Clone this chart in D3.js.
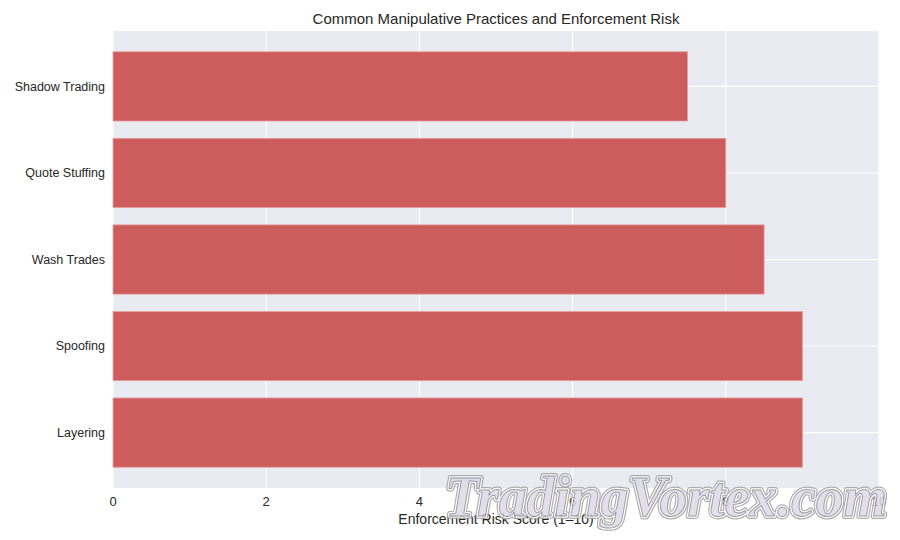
<!DOCTYPE html>
<html><head><meta charset="utf-8">
<script src="https://cdn.jsdelivr.net/npm/d3@7"></script>
<style>body{margin:0;background:#fff}svg{display:block}text{font-family:"Liberation Sans",Arial,sans-serif}text.wm{font-family:"Liberation Serif","DejaVu Serif",serif;font-style:italic;font-weight:bold}</style>
</head><body><svg id="c" width="900" height="540"></svg>
<script>
const categories = ["Layering","Spoofing","Wash Trades","Quote Stuffing","Shadow Trading"];
const scores = [9, 9, 8.5, 8, 7.5];
const xTicks = [0,2,4,6,8,10];
const title = "Common Manipulative Practices and Enforcement Risk";
const xLabel = "Enforcement Risk Score (1–10)";

const svg = d3.select("#c");
const L=113, R=879, T=31, B=488;
const x = d3.scaleLinear().domain([0,10]).range([L,R]);
const y = d3.scaleLinear().domain([-0.64, 4.64]).range([B,T]);

svg.append("rect").attr("x",L).attr("y",T).attr("width",R-L).attr("height",B-T).attr("fill","#EAEAF2");

const g = svg.append("g");
g.selectAll(".vg").data(xTicks).join("line")
  .attr("x1",d=>x(d)).attr("x2",d=>x(d)).attr("y1",T).attr("y2",B)
  .attr("stroke","#fff").attr("stroke-width",1.1);
g.selectAll(".hg").data(categories).join("line")
  .attr("x1",L).attr("x2",R).attr("y1",(d,i)=>y(i)).attr("y2",(d,i)=>y(i))
  .attr("stroke","#fff").attr("stroke-width",1.1);

g.selectAll(".bar").data(scores).join("rect")
  .attr("x",x(0)).attr("y",(d,i)=>y(i+0.4))
  .attr("width",d=>x(d)-x(0)).attr("height",(d,i)=>y(i-0.4)-y(i+0.4))
  .attr("fill","#CD5C5C").attr("stroke","#e8a0a0").attr("stroke-width",0.8);

svg.selectAll(".yl").data(categories).join("text")
  .attr("x",L-8).attr("y",(d,i)=>y(i)).attr("dy","0.35em")
  .attr("text-anchor","end").attr("font-size",12.5).attr("fill","#262626").text(d=>d);
svg.selectAll(".xl").data(xTicks).join("text")
  .attr("x",d=>x(d)).attr("y",506).attr("text-anchor","middle")
  .attr("font-size",13).attr("fill","#262626").text(d=>d);

svg.append("text").attr("x",(L+R)/2).attr("y",524).attr("text-anchor","middle")
  .attr("font-size",14).attr("fill","#262626").text(xLabel);
svg.append("text").attr("x",(L+R)/2).attr("y",24).attr("text-anchor","middle")
  .attr("font-size",15).attr("fill","#262626").text(title);

// watermark
const wm = svg.append("g").attr("opacity",0.85);
const wmAttrs = s => s.attr("class","wm").attr("font-size",58).attr("x",445).attr("y",516).attr("textLength",442).attr("lengthAdjust","spacingAndGlyphs").text("TradingVortex.com");
wmAttrs(wm.append("text")).attr("fill","none").attr("stroke","#a0a0a0").attr("stroke-width",6).attr("stroke-linejoin","round");
wmAttrs(wm.append("text")).attr("fill","none").attr("stroke","#ffffff").attr("stroke-width",3.5).attr("stroke-linejoin","round");
wmAttrs(wm.append("text")).attr("fill","#dedae8").attr("stroke","#8c8c96").attr("stroke-width",1);
</script></body></html>
